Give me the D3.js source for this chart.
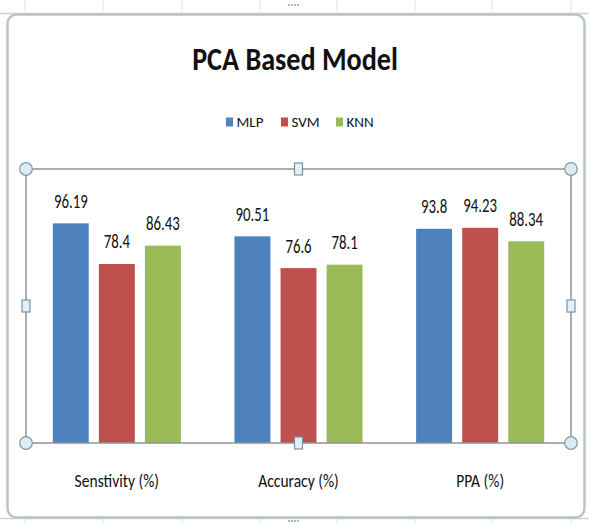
<!DOCTYPE html>
<html>
<head>
<meta charset="utf-8">
<script src="https://cdn.jsdelivr.net/npm/d3@7"></script>
<style>
  body { margin: 0; background: #fff; }
  text { font-family: Calibri, Carlito, Lato, sans-serif; fill: #111; }
</style>
</head>
<body>
<svg width="589" height="524"></svg>
<script>
var categories = ["Senstivity (%)", "Accuracy (%)", "PPA (%)"];
var seriesNames = ["MLP", "SVM", "KNN"];
var mlpValues = [96.19, 90.51, 93.8];
var svmValues = [78.4, 76.6, 94.23];
var knnValues = [86.43, 78.1, 88.34];
var colors = ["#4f81bd", "#c0504d", "#9bbb59"];

var svg = d3.select('svg');
var width = +svg.attr('width');
var height = +svg.attr('height');

// plot area box (the selected "plot area" in Excel)
var plot = {left: 26, right: 571, top: 169, bottom: 443};

var rows = categories.map(function (c, i) {
    return {cat: c, values: [mlpValues[i], svmValues[i], knnValues[i]]};
});

// sheet gridlines peeking out around the chart
var sheet = svg.append('g').attr('stroke', '#dfe6ea').attr('stroke-width', 1);
[25, 103, 182, 260, 337, 415, 492, 571].forEach(function (x) {
    sheet.append('line').attr('x1', x).attr('x2', x).attr('y1', 0).attr('y2', 13);
    sheet.append('line').attr('x1', x).attr('x2', x).attr('y1', 519).attr('y2', height);
});
svg.append('line').attr('x1', 0).attr('x2', width).attr('y1', 13.5).attr('y2', 13.5)
    .attr('stroke', '#c9d2d6').attr('stroke-width', 1.5);
svg.append('line').attr('x1', 0).attr('x2', width).attr('y1', 518.5).attr('y2', 518.5)
    .attr('stroke', '#c9d2d6').attr('stroke-width', 1.5);

// chart area border
svg.append('rect')
    .attr('x', 7.5).attr('y', 14.5).attr('width', 577).attr('height', 503)
    .attr('rx', 9).attr('fill', '#fff')
    .attr('stroke', '#b9c4c9').attr('stroke-width', 2.5);

// little grip dots top / bottom centre
[5, 521].forEach(function (y) {
    svg.append('g').selectAll('circle').data([0, 1, 2, 3]).enter()
        .append('circle').attr('cx', d => 289 + d * 3).attr('cy', y).attr('r', 0.9)
        .attr('fill', '#8a98a2');
});

// scales
var x0 = d3.scaleBand().domain(categories).range([plot.left, plot.right])
    .paddingInner(0.295).paddingOuter(0.1475);
var x1 = d3.scaleBand().domain(seriesNames).range([0, x0.bandwidth()]).paddingInner(0.22);
var y = d3.scaleLinear().domain([0, 120]).range([plot.bottom, plot.top]);

// title
svg.append('g').attr('transform', 'translate(295,69.5)')
    .append('text').attr('text-anchor', 'middle')
    .attr('font-size', '32px').attr('font-weight', 'bold')
    .attr('transform', 'scale(0.88,1)')
    .text('PCA Based Model');

// legend
var legend = svg.append('g').attr('class', 'legend');
var legItem = legend.selectAll('g').data(seriesNames).enter()
    .append('g').attr('transform', (d, i) => 'translate(' + (226 + i * 55) + ',117.5)');
legItem.append('rect').attr('width', 7).attr('height', 9)
    .attr('fill', (d, i) => colors[i]);
legItem.append('text').attr('x', 10.5).attr('y', 9.6)
    .attr('font-size', '15px').text(d => d);

// bars
var groups = svg.append('g').selectAll('.grp').data(rows).enter()
    .append('g').attr('class', 'grp')
    .attr('transform', d => 'translate(' + x0(d.cat) + ',0)');

groups.selectAll('rect').data(d => d.values).enter()
    .append('rect')
    .attr('x', (d, i) => x1(seriesNames[i]))
    .attr('width', x1.bandwidth())
    .attr('y', d => y(d))
    .attr('height', d => y(0) - y(d))
    .attr('fill', (d, i) => colors[i]);

// value labels
groups.selectAll('.val').data(d => d.values).enter()
    .append('g').attr('class', 'val')
    .attr('transform', (d, i) => 'translate(' + (x1(seriesNames[i]) + x1.bandwidth() / 2) + ',' + (y(d) - 15.5) + ')')
    .append('text').attr('text-anchor', 'middle')
    .attr('font-size', '19.5px')
    .attr('transform', 'scale(0.76,1)')
    .text(d => String(d));

// category labels
var xAxis = svg.append('g').attr('transform', 'translate(0,' + plot.bottom + ')')
    .call(d3.axisBottom(x0).tickSize(0).tickPadding(31));
xAxis.select('.domain').remove();
xAxis.selectAll('text')
    .attr('font-family', 'Calibri, Carlito, Lato, sans-serif')
    .attr('font-size', '18.5px').attr('fill', '#111')
    .attr('transform', 'scale(0.84,1)');

// plot area selection frame with handles
svg.append('rect')
    .attr('x', plot.left).attr('y', plot.top)
    .attr('width', plot.right - plot.left).attr('height', plot.bottom - plot.top)
    .attr('fill', 'none').attr('stroke', '#8c9499').attr('stroke-width', 1.5);

var corners = [[plot.left, plot.top], [plot.right, plot.top], [plot.left, plot.bottom], [plot.right, plot.bottom]];
svg.append('g').selectAll('circle').data(corners).enter()
    .append('circle').attr('cx', d => d[0]).attr('cy', d => d[1]).attr('r', 6.3)
    .attr('fill', '#dcebf4').attr('stroke', '#8398a8').attr('stroke-width', 1.2);

var midX = (plot.left + plot.right) / 2, midY = (plot.top + plot.bottom) / 2;
var mids = [[midX, plot.top], [midX, plot.bottom], [plot.left, midY], [plot.right, midY]];
svg.append('g').selectAll('rect').data(mids).enter()
    .append('rect').attr('x', d => d[0] - 4).attr('y', d => d[1] - 6)
    .attr('width', 8).attr('height', 12)
    .attr('fill', '#e3f0f8').attr('stroke', '#7b93a6').attr('stroke-width', 1.2);
</script>
</body>
</html>
